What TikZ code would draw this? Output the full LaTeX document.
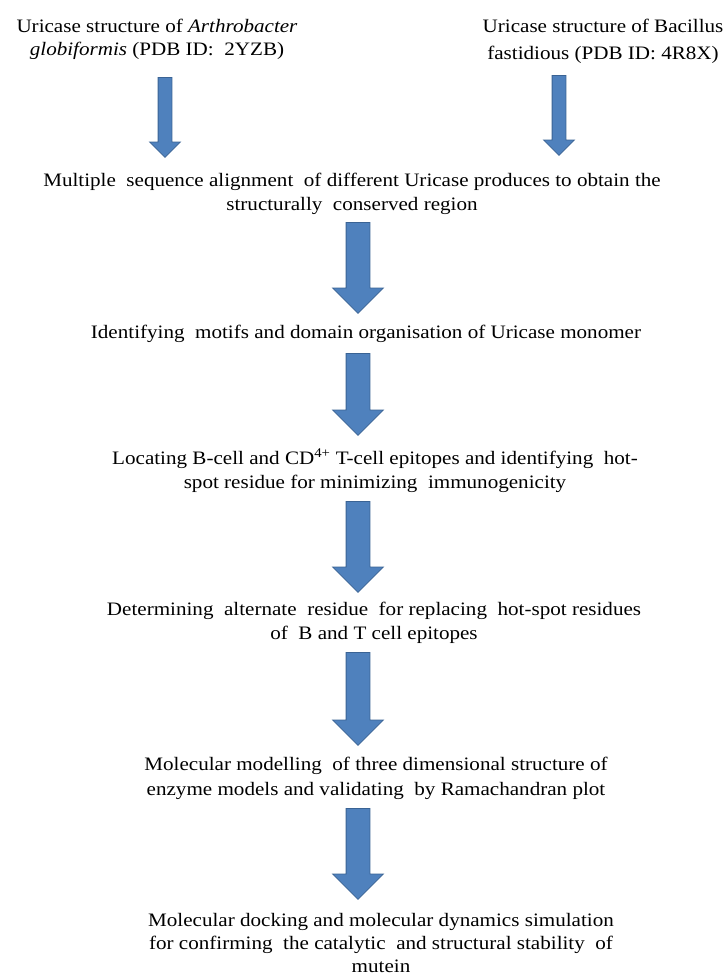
\documentclass[tikz,border=0pt]{standalone}
\usepackage{fontspec}
\setmainfont{Liberation Serif}[FakeStretch=1.11]
\usetikzlibrary{shapes.arrows}
\definecolor{arrowblue}{HTML}{4F81BD}
\definecolor{arrowedge}{HTML}{3A6394}

\begin{document}
\begin{tikzpicture}[x=1pt,y=-1pt,
		steptext/.style={anchor=north,inner sep=0pt,align=center,font=\fontsize{19}{24}\selectfont},
		bigarrow/.style={single arrow,rotate=-90,anchor=tail,fill=arrowblue,draw=arrowedge,line width=0.8pt,
			inner xsep=0pt,inner ysep=11.5pt,single arrow head extend=13.5pt,single arrow tip angle=90},
		smallarrow/.style={bigarrow,inner ysep=6.5pt,single arrow head extend=8.5pt}]
		\useasboundingbox (0,0) rectangle (726,977);
		
		% the two source structures
		\node[steptext,font=\fontsize{19}{23}\selectfont] (src1) at (157,19) {Uricase structure of \textit{Arthrobacter}\\\textit{globiformis} (PDB ID:\ \ 2YZB)};
		\node[steptext,font=\fontsize{19}{26.5}\selectfont] (src2) at (603,19) {Uricase structure of Bacillus\\fastidious (PDB ID: 4R8X)};
		\node[smallarrow,minimum height=80pt] (arA) at (165,77) {};
		\node[smallarrow,minimum height=80pt] (arB) at (559,75) {};
		
		% pipeline
		\node[steptext] (msa) at (352,173) {Multiple\ \ sequence alignment\ \ of different Uricase produces to obtain the\\structurally\ \ conserved region};
		\node[bigarrow,minimum height=91pt] (ar1) at (358,222) {};
		\node[steptext] (motif) at (366,325) {Identifying\ \ motifs and domain organisation of Uricase monomer};
		\node[bigarrow,minimum height=82pt] (ar2) at (358,353) {};
		\node[steptext] (epitope) at (375,449) {Locating B-cell and CD\textsuperscript{4+} T-cell epitopes and identifying\ \ hot-\\spot residue for minimizing\ \ immunogenicity};
		\node[bigarrow,minimum height=91pt] (ar3) at (358,501) {};
		\node[steptext] (altres) at (374,602) {Determining\ \ alternate\ \ residue\ \ for replacing\ \ hot-spot residues\\of\ \ B and T cell epitopes};
		\node[bigarrow,minimum height=93pt] (ar4) at (358,652) {};
		\node[steptext,font=\fontsize{19}{25}\selectfont] (model) at (376,757) {Molecular modelling\ \ of three dimensional structure of\\enzyme models and validating\ \ by Ramachandran plot};
		\node[bigarrow,minimum height=91pt] (ar5) at (358,808) {};
		\node[steptext,font=\fontsize{19}{23}\selectfont] (dock) at (381,913) {Molecular docking and molecular dynamics simulation\\for confirming\ \ the catalytic\ \ and structural stability\ \ of\\mutein};
\end{tikzpicture}
\end{document}
